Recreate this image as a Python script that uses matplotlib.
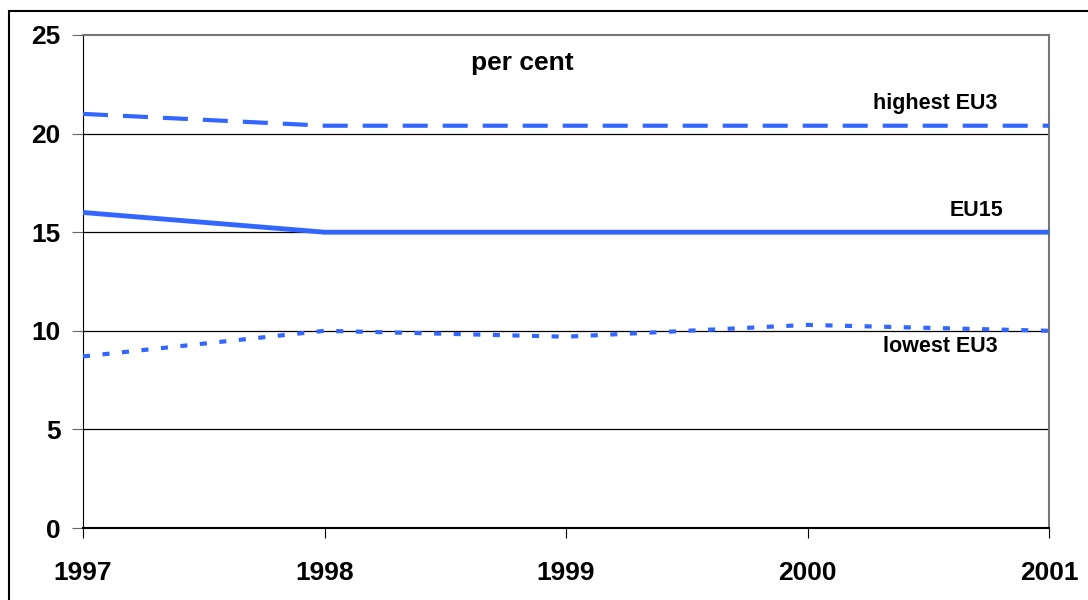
import matplotlib
matplotlib.use("Agg")
import matplotlib.pyplot as plt
from matplotlib.patches import Rectangle

plt.rcParams['font.family'] = ['Liberation Sans', 'DejaVu Sans']

years = [1997, 1998, 1999, 2000, 2001]
highest_eu3 = [21.0, 20.4, 20.4, 20.4, 20.4]
eu15 = [16.0, 15.0, 15.0, 15.0, 15.0]
lowest_eu3 = [8.7, 10.0, 9.7, 10.3, 10.0]
yticks = [0, 5, 10, 15, 20, 25]

blue = '#3366FF'

fig = plt.figure(figsize=(10.88, 6.0), dpi=100)
ax = fig.add_axes([83 / 1088, 1 - 528 / 600, (1049 - 83) / 1088, (528 - 35) / 600])

# outer frame of the chart area (runs off the bottom/right edge)
fig.patches.append(Rectangle((9 / 1088, -0.1), 1.2, 1 - 11 / 600 + 0.1,
                             transform=fig.transFigure, fill=False,
                             edgecolor='black', linewidth=1.5))

for y in yticks[1:-1]:
    ax.axhline(y, color='black', linewidth=0.9, zorder=1)

ax.plot(years, highest_eu3, color=blue, linewidth=3.0, dashes=(6, 3.6),
        dash_capstyle='butt', zorder=3)
ax.plot(years, eu15, color=blue, linewidth=3.5, solid_capstyle='butt', zorder=3)
ax.plot(years, lowest_eu3, color=blue, linewidth=3.0, dashes=(1.7, 3.0),
        dash_capstyle='butt', zorder=3)

ax.set_xlim(1997, 2001)
ax.set_ylim(0, 25)
ax.set_xticks(years)
ax.set_yticks(yticks)
ax.tick_params(axis='x', direction='out', length=7, width=0.8, pad=17,
               labelsize=19)
ax.tick_params(axis='y', direction='out', length=8, width=0.8, color='#666666',
               pad=8, labelsize=19)
for lab in ax.get_xticklabels() + ax.get_yticklabels():
    lab.set_fontweight('bold')

ax.spines['left'].set_color('black')
ax.spines['bottom'].set_color('black')
ax.spines['bottom'].set_linewidth(1.5)
ax.spines['top'].set_color('#777777')
ax.spines['right'].set_color('#777777')
ax.spines['top'].set_linewidth(1.5)
ax.spines['right'].set_linewidth(1.5)

ax.text(1998.82, 23.6, 'per cent', ha='center', va='center',
        fontsize=19, fontweight='bold')
ax.text(2000.53, 21.55, 'highest EU3', ha='center', va='center',
        fontsize=15.5, fontweight='bold')
ax.text(2000.70, 16.1, 'EU15', ha='center', va='center',
        fontsize=15.5, fontweight='bold')
ax.text(2000.55, 9.2, 'lowest EU3', ha='center', va='center',
        fontsize=15.5, fontweight='bold')

fig.savefig('out.png', dpi=100)
